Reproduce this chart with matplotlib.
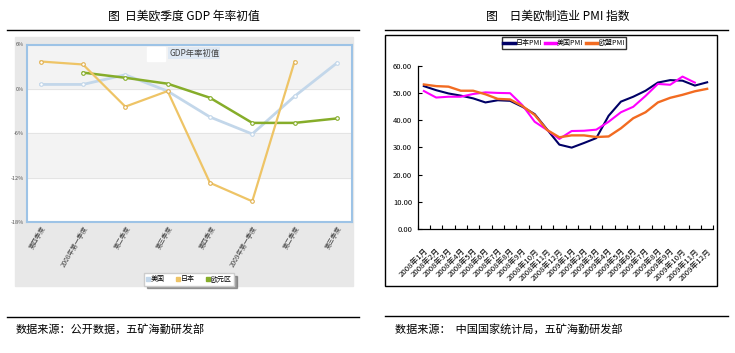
import matplotlib
matplotlib.use('Agg')
import matplotlib.pyplot as plt
from matplotlib.patches import Rectangle
from matplotlib.lines import Line2D
import numpy as np

plt.rcParams['font.family'] = ['Noto Sans CJK SC', 'DejaVu Sans']

# left chart: GDP annualised first release (%)
gdp_quarters = ['第四季度', '2008年第一季度', '第二季度', '第三季度',
                '第四季度', '2009年第一季度', '第二季度', '第三季度']
gdp_us = [0.6, 0.6, 1.9, -0.3, -3.8, -6.1, -1.0, 3.5]
gdp_japan = [3.7, 3.3, -2.4, -0.3, -12.7, -15.2, 3.7, np.nan]
gdp_euro = [np.nan, 2.2, 1.5, 0.7, -1.2, -4.6, -4.6, -4.0]
gdp_yticks = [-18, -12, -6, 0, 6]
gdp_ylabels = ['-18%', '-12%', '-6%', '0%', '6%']

# right chart: manufacturing PMI
pmi_months = ['2008年1月', '2008年2月', '2008年3月', '2008年4月', '2008年5月', '2008年6月',
              '2008年7月', '2008年8月', '2008年9月', '2008年10月', '2008年11月', '2008年12月',
              '2009年1月', '2009年2月', '2009年3月', '2009年4月', '2009年5月', '2009年6月',
              '2009年7月', '2009年8月', '2009年9月', '2009年10月', '2009年11月', '2009年12月']
pmi_japan = [52.5, 51.0, 49.8, 49.0, 48.0, 46.5, 47.3, 47.1, 44.9, 42.2, 36.6, 31.0,
             29.9, 31.6, 33.4, 41.6, 46.8, 48.6, 50.8, 53.8, 54.7, 54.5, 52.7, 53.9]
pmi_us = [50.7, 48.3, 48.6, 48.6, 49.6, 50.2, 50.0, 49.9, 45.5, 39.4, 36.4, 33.1,
          36.0, 36.1, 36.5, 39.4, 42.9, 44.9, 48.9, 53.3, 53.0, 56.0, 53.8, np.nan]
pmi_euro = [53.1, 52.5, 52.3, 50.8, 50.8, 49.5, 47.8, 47.6, 45.2, 41.9, 36.4, 33.7,
            34.4, 34.4, 33.8, 34.0, 37.0, 40.7, 42.9, 46.5, 48.2, 49.3, 50.6, 51.5]

W, H = 735, 353
fig = plt.figure(figsize=(W / 100, H / 100), dpi=100)


def box(x0, y0, x1, y1):
    return [x0 / W, 1 - y1 / H, (x1 - x0) / W, (y1 - y0) / H]


def hline(x0, x1, y):
    fig.add_artist(Line2D([x0 / W, x1 / W], [1 - y / H, 1 - y / H], color='black', lw=1))


# ---------- left chart ----------
fig.text(184 / W, 1 - 16.5 / H, '图  日美欧季度 GDP 年率初值', ha='center', va='center', fontsize=8.5)
hline(7, 359, 30)
hline(7, 359, 316.5)
fig.text(16 / W, 1 - 329 / H, '数据来源：公开数据，五矿海勤研发部', ha='left', va='center', fontsize=8)

fig.add_artist(Rectangle((15 / W, 1 - 286 / H), (353 - 15) / W, (286 - 37) / H,
                         transform=fig.transFigure, color='#e8e8e8', zorder=-1))

ax1 = fig.add_axes(box(26.7, 44.5, 351.7, 222))
x1 = np.arange(len(gdp_quarters))
ax1.axhspan(0, 6, color='#f3f3f3', zorder=0)
ax1.axhspan(-12, -6, color='#f3f3f3', zorder=0)
for v in gdp_yticks:
    ax1.axhline(v, color='#e2e2e2', lw=0.6, zorder=0.5)
ax1.plot(x1, gdp_us, color='#c3d7ea', lw=2, marker='o', ms=2.6, mfc='white', mec='#c3d7ea', mew=0.8, zorder=2)
ax1.plot(x1, gdp_euro, color='#86ad2a', lw=1.8, marker='o', ms=2.6, mfc='white', mec='#86ad2a', mew=0.8, zorder=3)
ax1.plot(x1, gdp_japan, color='#eec466', lw=1.6, marker='o', ms=2.6, mfc='white', mec='#e0b050', mew=0.8, zorder=4)
ax1.set_ylim(-18, 6)
ax1.set_xlim(-0.33, 7.35)
ax1.set_yticks(gdp_yticks)
ax1.set_yticklabels(gdp_ylabels, fontsize=4, color='#555555')
ax1.set_xticks(x1)
ax1.set_xticklabels(gdp_quarters, fontsize=4.6, color='#444444', rotation=60, ha='right', va='top',
                    rotation_mode='anchor')
ax1.tick_params(axis='both', length=0, pad=2)
for s in ax1.spines.values():
    s.set_color('#9dc3e6')
    s.set_linewidth(1.5)

fig.add_artist(Rectangle((146.5 / W, 1 - 61 / H), 18.5 / W, 14 / H, transform=fig.transFigure,
                         color='white', zorder=5))
fig.text(169 / W, 1 - 53 / H, 'GDP年率初值', ha='left', va='center', fontsize=6, color='#444444',
         bbox=dict(fc='#dfe9f4', ec='none', pad=0.8))

leg_handles = [Line2D([], [], ls='none', marker='s', ms=3, color=c, mec=c)
               for c in ['#c3d7ea', '#eec466', '#86ad2a']]
fig.legend(leg_handles, ['美国', '日本', '欧元区'], loc='center',
           bbox_to_anchor=(189 / W, 1 - 279.5 / H), ncol=3, fontsize=5, frameon=True,
           fancybox=False, shadow=True, edgecolor='#cccccc', handlelength=0.5,
           handletextpad=0.2, columnspacing=1.6, borderpad=0.3)

# ---------- right chart ----------
fig.text(558 / W, 1 - 16.5 / H, '图　日美欧制造业 PMI 指数', ha='center', va='center', fontsize=8.5)
hline(385, 728, 30)
hline(385, 728, 316)
fig.text(395 / W, 1 - 329 / H, '数据来源：  中国国家统计局，五矿海勤研发部', ha='left', va='center', fontsize=8)

fig.add_artist(Rectangle((385 / W, 1 - 286 / H), (717 - 385) / W, (286 - 35) / H,
                         transform=fig.transFigure, fill=False, ec='black', lw=1))

ax2 = fig.add_axes(box(417.7, 65.7, 713.3, 229))
x2 = np.arange(len(pmi_months))
ax2.plot(x2, pmi_japan, color='#000066', lw=1.5, label='日本PMI')
ax2.plot(x2, pmi_us, color='#ff00ff', lw=1.5, label='美国PMI')
ax2.plot(x2, pmi_euro, color='#f26b21', lw=1.7, label='欧盟PMI')
ax2.set_ylim(0, 60)
ax2.set_xlim(-0.5, 23.5)
ax2.set_yticks(np.arange(0, 61, 10))
ax2.set_yticklabels([f'{v:.2f}' for v in np.arange(0, 61, 10)], fontsize=5.5)
ax2.set_xticks(x2)
ax2.set_xticklabels(pmi_months, fontsize=5.6, rotation=45, ha='right', va='top', rotation_mode='anchor')
ax2.set_xticks(np.arange(-0.5, 24, 1), minor=True)
ax2.tick_params(axis='x', which='major', length=0, pad=13)
ax2.tick_params(axis='x', which='minor', direction='in', length=3, width=0.8)
ax2.tick_params(axis='y', direction='in', length=3, width=0.8, pad=4)
ax2.spines['top'].set_visible(False)
ax2.spines['right'].set_visible(False)
ax2.spines['left'].set_linewidth(0.9)
ax2.spines['bottom'].set_linewidth(0.9)

leg2 = fig.legend(loc='center', bbox_to_anchor=(564 / W, 1 - 43 / H), ncol=3, fontsize=5,
                  frameon=True, fancybox=False, edgecolor='black', handlelength=1.6,
                  handletextpad=0.15, columnspacing=0.4, borderpad=0.25)
leg2.get_frame().set_linewidth(1)
for ln in leg2.get_lines():
    ln.set_linewidth(2.5)

fig.savefig('out.png', dpi=100)
